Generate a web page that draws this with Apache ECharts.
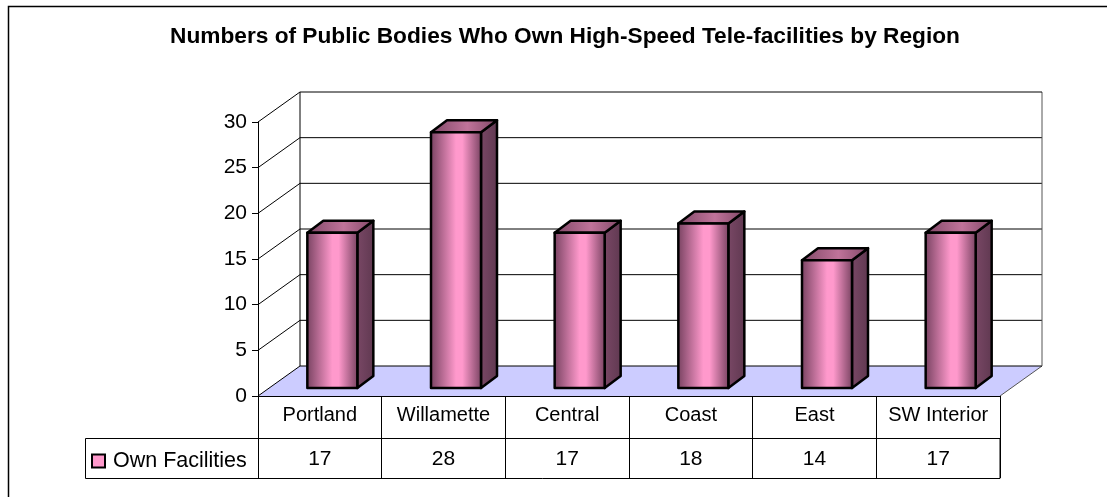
<!DOCTYPE html>
<html>
<head>
<meta charset="utf-8">
<style>
  html, body { margin: 0; padding: 0; background: #fff; }
  #chart { width: 1107px; height: 497px; }
</style>
<script src="https://cdn.jsdelivr.net/npm/echarts@6/dist/echarts.min.js"></script>
</head>
<body>
<div id="chart"></div>
<script>
const categories = ['Portland', 'Willamette', 'Central', 'Coast', 'East', 'SW Interior']
const ownFacilities = [17, 28, 17, 18, 14, 17]
const yTicks = [0, 5, 10, 15, 20, 25, 30]

const seriesName = 'Own Facilities'
const titleText = 'Numbers of Public Bodies Who Own High-Speed Tele-facilities by Region'

// 3D look: how far the back wall and the bar sit from the front of the floor
const wallDx = 42
const wallDy = 30
const barDx = 12.5
const barDy = 8
const barDepthX = 16
const barDepthY = 12
const barWidth = 50
const fontName = '"Liberation Sans", Arial, sans-serif'

function hGradient(stops) {
  return new echarts.graphic.LinearGradient(0, 0, 1, 0, stops.map(c => {
    return { offset: c[0], color: c[1] }
  }))
}

const frontFill = hGradient([[0, '#74405e'], [0.5, '#ff99cc'], [0.62, '#ff99cc'], [1, '#74405e']])
const topFill = hGradient([[0, '#7f4766'], [0.55, '#c0739a'], [1, '#7f4766']])
const sideFill = hGradient([[0, '#7a4866'], [1, '#5f3850']])

// floor, back wall and the side wall, one item per y tick
function renderWall(params, api) {
  const val = api.value(1)
  const band = api.size([1, 0])[0]
  const p = api.coord([0, val])
  const left = p[0] - band / 2
  const right = left + band * categories.length
  const y = p[1]
  const children = []
  if (val === 0) {
    children.push({
      type: 'polygon',
      shape: { points: [[left, y], [left + wallDx, y - wallDy], [right + wallDx, y - wallDy], [right, y]] },
      style: { fill: '#ccccff', stroke: null }
    })
    children.push({
      type: 'line',
      shape: { x1: right, y1: y, x2: right + wallDx, y2: y - wallDy },
      style: { stroke: '#555', lineWidth: 1 }
    })
  }
  if (val === yTicks[yTicks.length - 1]) {
    const bottom = api.coord([0, 0])[1] - wallDy
    children.push({
      type: 'line',
      shape: { x1: left + wallDx, y1: y - wallDy, x2: left + wallDx, y2: bottom },
      style: { stroke: '#000', lineWidth: 1 }
    })
    children.push({
      type: 'line',
      shape: { x1: right + wallDx, y1: y - wallDy, x2: right + wallDx, y2: bottom },
      style: { stroke: '#555', lineWidth: 1 }
    })
  }
  children.push({
    type: 'polyline',
    shape: { points: [[left, y], [left + wallDx, y - wallDy], [right + wallDx, y - wallDy]] },
    style: { fill: null, stroke: '#000', lineWidth: 1 }
  })
  return { type: 'group', children: children }
}

function renderBar(params, api) {
  const base = api.coord([api.value(0), 0])
  const head = api.coord([api.value(0), api.value(1)])
  const x1 = base[0] + barDx - barWidth / 2
  const x2 = x1 + barWidth
  const yTop = head[1] - barDy
  const yBot = base[1] - barDy
  const edge = { stroke: '#000', lineWidth: 2.5, lineJoin: 'round' }
  return {
    type: 'group',
    children: [
      {
        type: 'polygon',
        shape: { points: [[x2, yTop], [x2 + barDepthX, yTop - barDepthY], [x2 + barDepthX, yBot - barDepthY], [x2, yBot]] },
        style: Object.assign({ fill: sideFill }, edge)
      },
      {
        type: 'polygon',
        shape: { points: [[x1, yTop], [x1 + barDepthX, yTop - barDepthY], [x2 + barDepthX, yTop - barDepthY], [x2, yTop]] },
        style: Object.assign({ fill: topFill }, edge)
      },
      {
        type: 'rect',
        shape: { x: x1, y: yTop, width: barWidth, height: yBot - yTop },
        style: Object.assign({ fill: frontFill }, edge)
      }
    ]
  }
}

const chart = echarts.init(document.getElementById('chart'), null, { renderer: 'canvas' })

chart.setOption({
  animation: false,
  backgroundColor: '#fff',
  title: {
    text: titleText,
    left: 165,
    top: 20,
    textStyle: { color: '#000', fontFamily: fontName, fontWeight: 'bold', fontSize: 22.7 }
  },
  legend: {
    left: 91,
    top: 450,
    padding: 0,
    data: [seriesName],
    icon: 'rect',
    itemWidth: 13,
    itemHeight: 13,
    textStyle: { color: '#000', fontFamily: fontName, fontSize: 21.5, padding: [0, 0, 0, 3] },
    itemStyle: { color: '#ff99cc', borderColor: '#000', borderWidth: 2 }
  },
  grid: { left: 258, right: 107, top: 122, height: 274 },
  xAxis: [
    {
      type: 'category',
      data: categories,
      axisLine: { lineStyle: { color: '#000', width: 1 } },
      axisTick: { show: true, alignWithLabel: false, length: 42, lineStyle: { color: '#000', width: 1 } },
      axisLabel: { interval: 0, color: '#000', fontFamily: fontName, fontSize: 20, margin: 9 }
    },
    {
      type: 'category',
      position: 'bottom',
      offset: 42,
      data: ownFacilities.map(String),
      axisLine: { lineStyle: { color: '#000', width: 1 } },
      axisTick: { show: true, alignWithLabel: false, length: 40, lineStyle: { color: '#000', width: 1 } },
      axisLabel: { interval: 0, color: '#000', fontFamily: fontName, fontSize: 21, margin: 11 }
    }
  ],
  yAxis: {
    type: 'value',
    min: 0,
    max: 30,
    interval: 5,
    axisLine: { show: true, lineStyle: { color: '#000', width: 1 } },
    axisTick: { show: true, length: 6, lineStyle: { color: '#000', width: 1 } },
    axisLabel: { color: '#000', fontFamily: fontName, fontSize: 21, margin: 11 },
    splitLine: { show: false }
  },
  graphic: [
    {
      type: 'rect',
      z: -10,
      shape: { x: 8.5, y: 6.5, width: 1120, height: 520 },
      style: { fill: null, stroke: '#000', lineWidth: 1.5 }
    },
    {
      type: 'rect',
      z: 1,
      shape: { x: 85.5, y: 438.5, width: 914.5, height: 40 },
      style: { fill: null, stroke: '#000', lineWidth: 1 }
    }
  ],
  series: [
    {
      type: 'custom',
      name: 'wall',
      z: -1,
      silent: true,
      coordinateSystem: 'cartesian2d',
      data: yTicks.map(t => [0, t]),
      encode: { x: 0, y: 1 },
      renderItem: renderWall
    },
    {
      type: 'custom',
      name: seriesName,
      z: 3,
      coordinateSystem: 'cartesian2d',
      data: ownFacilities.map((v, i) => [i, v]),
      encode: { x: 0, y: 1 },
      itemStyle: { color: '#ff99cc', borderColor: '#000', borderWidth: 2 },
      renderItem: renderBar
    }
  ]
})
</script>
</body>
</html>
